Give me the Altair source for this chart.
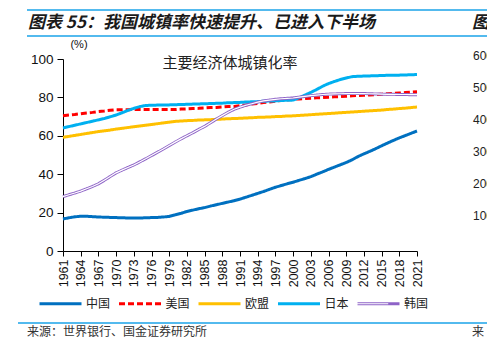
import altair as alt
import pandas as pd

years = list(range(1961, 2022))
series_names = ["中国", "美国", "欧盟", "日本", "韩国"]
series_colors = ["#0070C0", "#FF0000", "#FFC000", "#00B0F0", "#8E63C7"]

china = [16.7, 17.3, 17.8, 18.1, 18.1, 17.9, 17.7, 17.6, 17.5, 17.4,
         17.3, 17.2, 17.2, 17.2, 17.3, 17.4, 17.5, 17.7, 18.0, 18.8,
         19.6, 20.6, 21.3, 22.0, 22.6, 23.4, 24.1, 24.8, 25.5, 26.2,
         27.0, 28.0, 29.0, 30.0, 31.0, 32.1, 33.2, 34.1, 35.0, 35.8,
         36.8, 37.7, 38.7, 40.0, 41.2, 42.5, 43.7, 44.9, 46.1, 47.5,
         49.2, 50.6, 51.9, 53.3, 54.8, 56.2, 57.6, 58.9, 60.1, 61.3, 62.5]
usa = [70.4, 70.8, 71.1, 71.5, 71.9, 72.2, 72.6, 72.9, 73.3, 73.6,
       73.6, 73.6, 73.7, 73.7, 73.7, 73.7, 73.7, 73.7, 73.7, 73.7,
       73.9, 74.0, 74.2, 74.3, 74.5, 74.7, 74.8, 75.0, 75.2, 75.3,
       75.7, 76.1, 76.5, 76.9, 77.3, 77.6, 78.0, 78.4, 78.7, 79.1,
       79.2, 79.4, 79.6, 79.8, 79.9, 80.1, 80.3, 80.4, 80.6, 80.8,
       81.0, 81.1, 81.3, 81.5, 81.7, 81.9, 82.1, 82.3, 82.5, 82.7, 82.9]
eu = [59.2, 59.7, 60.2, 60.7, 61.2, 61.7, 62.2, 62.6, 63.0, 63.5,
      63.9, 64.3, 64.7, 65.1, 65.5, 65.9, 66.3, 66.7, 67.1, 67.5,
      67.7, 67.9, 68.0, 68.2, 68.3, 68.4, 68.6, 68.7, 68.9, 69.0,
      69.1, 69.3, 69.4, 69.6, 69.7, 69.8, 70.0, 70.1, 70.3, 70.4,
      70.6, 70.8, 71.0, 71.2, 71.4, 71.6, 71.8, 72.0, 72.2, 72.4,
      72.6, 72.8, 73.0, 73.2, 73.4, 73.7, 73.9, 74.2, 74.4, 74.7, 75.0]
japan = [64.1, 64.8, 65.5, 66.2, 66.9, 67.6, 68.3, 69.0, 69.9, 70.8,
         72.0, 73.2, 74.3, 75.2, 75.8, 75.9, 76.0, 76.1, 76.1, 76.2,
         76.3, 76.4, 76.5, 76.6, 76.7, 76.8, 76.9, 77.0, 77.2, 77.3,
         77.4, 77.6, 77.7, 77.8, 78.0, 78.1, 78.2, 78.4, 78.5, 78.6,
         79.8, 81.2, 82.6, 84.1, 85.8, 87.2, 88.3, 89.3, 90.1, 90.8,
         91.0, 91.1, 91.2, 91.3, 91.4, 91.5, 91.6, 91.6, 91.7, 91.8, 91.9]
korea = [28.3, 29.3, 30.2, 31.2, 32.4, 33.6, 35.0, 36.8, 38.8, 40.7,
         42.1, 43.5, 44.8, 46.4, 48.0, 49.7, 51.4, 53.1, 54.9, 56.7,
         58.4, 60.0, 61.6, 63.3, 64.9, 66.8, 68.7, 70.5, 72.3, 73.8,
         74.9, 75.9, 76.7, 77.5, 78.2, 78.6, 79.0, 79.3, 79.5, 79.7,
         80.1, 80.5, 80.9, 81.2, 81.5, 81.7, 81.8, 81.9, 82.0, 82.0,
         82.0, 82.0, 81.9, 81.8, 81.7, 81.6, 81.6, 81.5, 81.5, 81.4, 81.4]

year_ticks = list(range(1961, 2022, 3))
y_ticks = [0, 20, 40, 60, 80, 100]
right_labels = ["600", "500", "400", "300", "200", "100"]

rows = []
for name, vals in zip(series_names, [china, usa, eu, japan, korea]):
    for yr, v in zip(years, vals):
        rows.append({"year": yr, "series": name, "value": v, "inner": name})
df = pd.DataFrame(rows)

LEG_X, LEG_Y = -25, 222

legend_spec = alt.Legend(
    title=None, orient="none", legendX=LEG_X, legendY=LEG_Y,
    direction="horizontal", symbolType="stroke", symbolSize=1764,
    symbolStrokeWidth=3.2, labelFont="Noto Sans CJK SC", labelFontSize=12,
    labelColor="#222222", columnPadding=1.5, labelOffset=3,
)
# same layout, all symbols transparent except the white core of the Korea line
inner_legend = alt.Legend(
    title=None, orient="none", legendX=LEG_X, legendY=LEG_Y,
    direction="horizontal", symbolType="stroke", symbolSize=1892,
    symbolStrokeWidth=1.2, labelFont="Noto Sans CJK SC", labelFontSize=12,
    labelOpacity=0, columnPadding=1.5, labelOffset=3, zindex=2,
)

x_enc = alt.X("year:Q", scale=alt.Scale(domain=[1961, 2021], nice=False, zero=False),
              axis=alt.Axis(values=year_ticks, tickCount=40, format="d", labelAngle=270,
                            title=None, labelFont="Liberation Sans", labelFontSize=12.5,
                            labelColor="#111111", domainColor="#000000",
                            tickColor="#000000", tickSize=5, labelPadding=3,
                            grid=False, labelOverlap=False))
y_enc = alt.Y("value:Q", scale=alt.Scale(domain=[0, 100], nice=False),
              axis=alt.Axis(values=y_ticks, tickCount=10, title=None,
                            labelFont="Liberation Sans", labelFontSize=13.5,
                            labelColor="#111111", domainColor="#000000",
                            tickColor="#000000", tickSize=6, labelPadding=4,
                            grid=False, labelOverlap=False))

lines = alt.Chart(df).mark_line(strokeWidth=3).encode(
    x=x_enc, y=y_enc,
    color=alt.Color("series:N", scale=alt.Scale(domain=series_names, range=series_colors),
                    legend=legend_spec),
    strokeDash=alt.StrokeDash("series:N",
                              scale=alt.Scale(domain=series_names,
                                              range=[[1, 0], [6, 3], [1, 0], [1, 0], [1, 0]]),
                              legend=legend_spec),
    strokeWidth=alt.StrokeWidth("series:N",
                                scale=alt.Scale(domain=series_names, range=[3, 3, 3, 3, 4]),
                                legend=None),
    order=alt.Order("year:Q"),
)

korea_inner = alt.Chart(df).transform_filter(alt.datum.series == "韩国").mark_line(
    strokeWidth=1.2).encode(
    x="year:Q", y="value:Q", order="year:Q",
    color=alt.Color("inner:N",
                    scale=alt.Scale(domain=series_names,
                                    range=["transparent", "transparent", "transparent",
                                           "transparent", "#FFFFFF"]),
                    legend=inner_legend),
)

one = alt.Data(values=[{"a": 1}])


def text(t, x, y, size=12, font="Noto Sans CJK SC", color="#222222", align="left",
         weight="normal", style="normal"):
    return alt.Chart(one).mark_text(text=t, align=align, baseline="middle", fontSize=size,
                                    font=font, color=color, fontWeight=weight,
                                    fontStyle=style).encode(x=alt.value(x), y=alt.value(y))


def rule(x1, x2, y, color="#1AA3E8", w=1.5):
    return alt.Chart(one).mark_rule(color=color, strokeWidth=w).encode(
        x=alt.value(x1), x2=alt.value(x2), y=alt.value(y))


deco = [
    rule(-36, 424, -49),
    rule(-36, 424, -23),
    rule(-45, 424, 264),
    text("图表 55：我国城镇率快速提升、已进入下半场", -35, -36, size=17,
         weight="bold", style="italic", color="#1a1a1a"),
    text("图", 409, -36, size=17, weight="bold", style="italic", color="#1a1a1a"),
    text("(%)", 16, -14, size=11, font="Liberation Sans", color="#111111", align="center"),
    text("主要经济体城镇化率", 167, 4, size=15, color="#222222", align="center"),
    text("来源：世界银行、国金证券研究所", -36, 273, size=12, color="#333333"),
    text("来", 409, 273, size=12, color="#333333"),
]
for lab, yy in zip(right_labels, [56, 88, 120, 152, 184, 216]):
    deco.append(text(lab, 410, yy - 59, size=12, font="Liberation Sans", color="#222222"))

chart = alt.layer(lines, korea_inner, *deco).resolve_scale(
    color="independent", strokeDash="independent", strokeWidth="independent"
).properties(
    width=354, height=192,
    autosize=alt.AutoSizeParams(type="none"),
    padding={"left": 63, "top": 59, "right": 70, "bottom": 98},
    background="white",
).configure_view(stroke=None)

chart.save("out.html", embed_options={"renderer": "svg", "actions": False})
